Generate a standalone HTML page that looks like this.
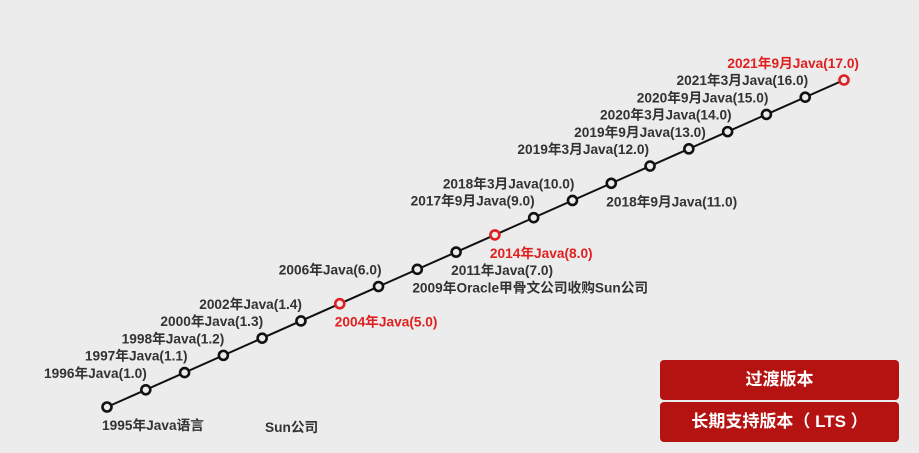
<!DOCTYPE html>
<html><head><meta charset="utf-8"><style>
html,body{margin:0;padding:0;background:#ececec;}
body{width:919px;height:453px;overflow:hidden;position:relative;font-family:"Liberation Sans","Noto Sans CJK SC",sans-serif;}
svg{position:absolute;left:0;top:0;}
.btn{position:absolute;left:660px;width:239px;height:40px;background:#b51212;border-radius:4px;color:#fff;font-weight:bold;font-size:17px;text-align:center;line-height:40px;font-family:"Liberation Sans","Noto Sans CJK SC",sans-serif;}
</style></head><body>
<svg id="chart" width="919" height="453"></svg>
<div class="btn" style="top:360px">过渡版本</div>
<div class="btn" style="top:402px">长期支持版本（ LTS ）</div>
<script>
const labels=["1995年Java语言","1996年Java(1.0)","1997年Java(1.1)","1998年Java(1.2)","2000年Java(1.3)","2002年Java(1.4)","2004年Java(5.0)","2006年Java(6.0)","2009年Oracle甲骨文公司收购Sun公司","2011年Java(7.0)","2014年Java(8.0)","2017年9月Java(9.0)","2018年3月Java(10.0)","2018年9月Java(11.0)","2019年3月Java(12.0)","2019年9月Java(13.0)","2020年3月Java(14.0)","2020年9月Java(15.0)","2021年3月Java(16.0)","2021年9月Java(17.0)"];
const order=[0,1,2,3,4,5,6,7,8,9,10,11,12,13,14,15,16,17,18,19];
const lts=[0,0,0,0,0,0,1,0,0,0,1,0,0,0,0,0,0,0,0,1];
const side=["below","above","above","above","above","above","below","above","below","below","below","above","above","below","above","above","above","above","above","above"];
const labelShift=[0,0,2,0,0,0,0,2,0,0,0,0,1,0,-2,16,3,1,2,14];
const x=i=>107+i*(737/19);
const y=i=>407-i*(327/19);
const svg=document.getElementById('chart');
const NS='http://www.w3.org/2000/svg';
const line=document.createElementNS(NS,'line');
line.setAttribute('x1',x(order[0]));line.setAttribute('y1',y(order[0]));
line.setAttribute('x2',x(order[order.length-1]));line.setAttribute('y2',y(order[order.length-1]));
line.setAttribute('stroke','#111');line.setAttribute('stroke-width','2');


svg.appendChild(line);
order.forEach((v,i)=>{
  const c=document.createElementNS(NS,'circle');
  c.setAttribute('cx',x(v));c.setAttribute('cy',y(v));c.setAttribute('r',4.5);
  c.setAttribute('fill','#ececec');c.setAttribute('stroke',lts[i]?'#e02020':'#111');c.setAttribute('stroke-width','2.6');
  
  
  svg.appendChild(c);
  const t=document.createElementNS(NS,'text');
  t.textContent=labels[i];
  t.setAttribute('font-size','13.7');t.setAttribute('font-weight','bold');
  t.setAttribute('fill',lts[i]?'#e02020':'#333');
  if(side[i]==='above'){t.setAttribute('text-anchor','end');t.setAttribute('x',x(v)+1+labelShift[i]);t.setAttribute('y',y(v)-12);}
  else{t.setAttribute('x',x(v)-5+labelShift[i]);t.setAttribute('y',y(v)+23);}
  
  
  svg.appendChild(t);
});
const s=document.createElementNS(NS,'text');
s.textContent='Sun公司';s.setAttribute('x',265);s.setAttribute('y',432);
s.setAttribute('font-size','13.7');s.setAttribute('font-weight','bold');s.setAttribute('fill','#333');


svg.appendChild(s);
</script>
</body></html>
